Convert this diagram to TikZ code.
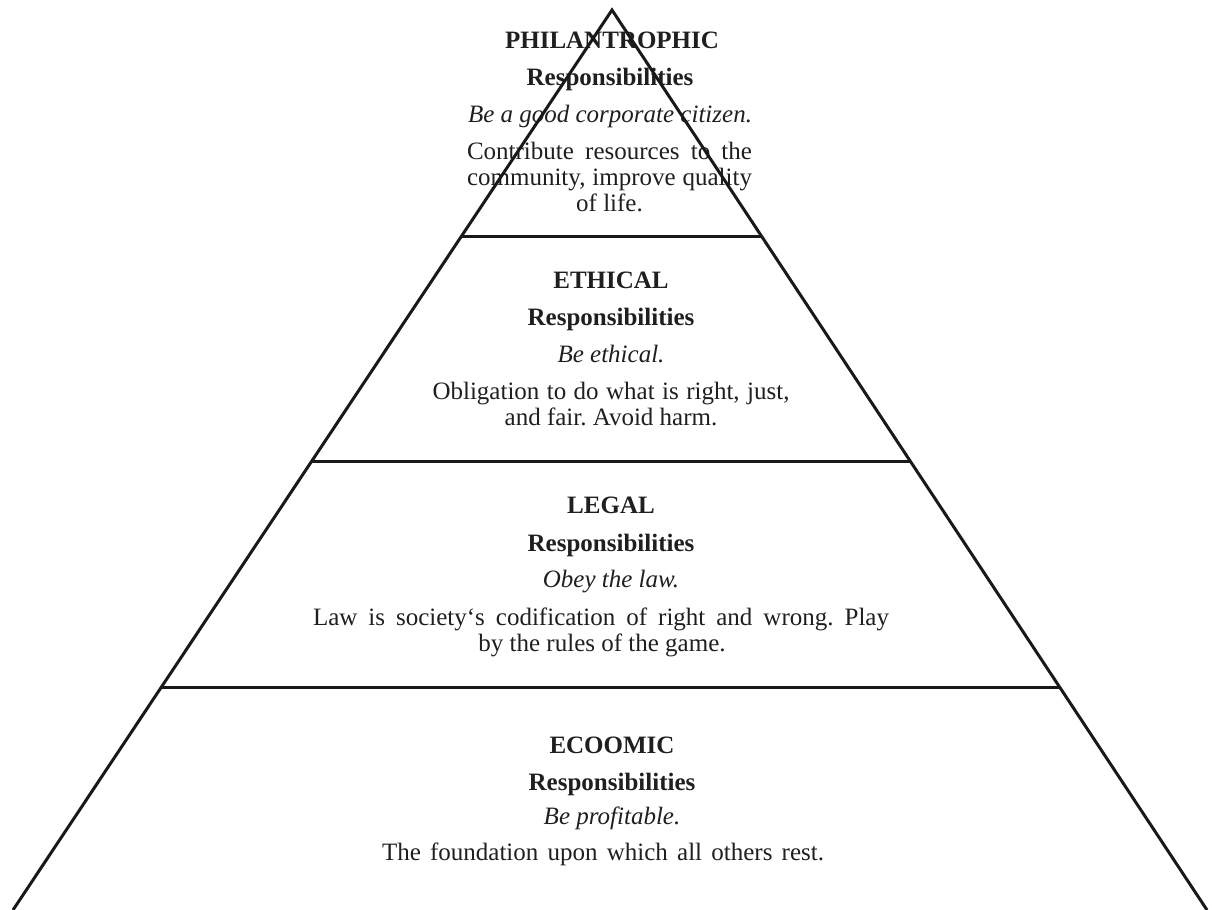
\documentclass[tikz,border=0pt]{standalone}
\usepackage{fontspec}
\setmainfont{Liberation Serif}
\usetikzlibrary{calc}
\tikzset{
  edge/.style={line width=3pt, line join=miter, draw=black!90},
  tier/.style={anchor=base, inner sep=0pt, text=black!88,
               font=\fontsize{25}{30}\selectfont\frenchspacing},
  heading/.style={tier, font=\fontsize{25}{30}\selectfont\bfseries},
  motto/.style={tier, font=\fontsize{25}{30}\selectfont\itshape},
}
\begin{document}
\begin{tikzpicture}[x=1pt, y=-1pt]
\useasboundingbox (0,0) rectangle (1213,910);

% outline of the pyramid
\coordinate (apex) at (612,10);
\coordinate (bl) at (13,910);
\coordinate (br) at (1207,910);

% level separators (fractions of the height from the apex)
\coordinate (l1) at ($(apex)!0.2522!(bl)$);
\coordinate (r1) at ($(apex)!0.2522!(br)$);
\coordinate (l2) at ($(apex)!0.5022!(bl)$);
\coordinate (r2) at ($(apex)!0.5022!(br)$);
\coordinate (l3) at ($(apex)!0.7533!(bl)$);
\coordinate (r3) at ($(apex)!0.7533!(br)$);

% philanthropic level
\node[heading] (phT) at (612,48) {PHILANTROPHIC};
\node[heading] (phR) at (610,85) {Responsibilities};
\node[motto]   (phM) at (610,122) {Be a good corporate citizen.};
\node[tier]    (phA) at (609.5,159) {\makebox[285pt][s]{Contribute resources to the}};
\node[tier]    (phB) at (609.5,185) {\makebox[285pt][s]{community, improve quality}};
\node[tier]    (phC) at (609.5,211) {of life.};

% ethical level
\node[heading] (etT) at (611,288) {ETHICAL};
\node[heading] (etR) at (611,325) {Responsibilities};
\node[motto]   (etM) at (611,362) {Be ethical.};
\node[tier]    (etA) at (611,399) {\makebox[357pt][s]{Obligation to do what is right, just,}};
\node[tier]    (etB) at (611,425) {and fair. Avoid harm.};

% legal level
\node[heading] (lgT) at (611,513) {LEGAL};
\node[heading] (lgR) at (611,551) {Responsibilities};
\node[motto]   (lgM) at (611,587) {Obey the law.};
\node[tier]    (lgA) at (601,625) {\makebox[576pt][s]{Law is society‘s codification of right and wrong. Play}};
\node[tier]    (lgB) at (602,651) {by the rules of the game.};

% economic level
\node[heading] (ecT) at (612,753) {ECOOMIC};
\node[heading] (ecR) at (612,790) {Responsibilities};
\node[motto]   (ecM) at (612,824) {Be profitable.};
\node[tier]    (ecA) at (603,860) {\makebox[442pt][s]{The foundation upon which all others rest.}};

\draw[edge] (bl) -- (apex) -- (br);
\draw[edge] (l1) -- (r1);
\draw[edge] (l2) -- (r2);
\draw[edge] (l3) -- (r3);
\end{tikzpicture}
\end{document}
